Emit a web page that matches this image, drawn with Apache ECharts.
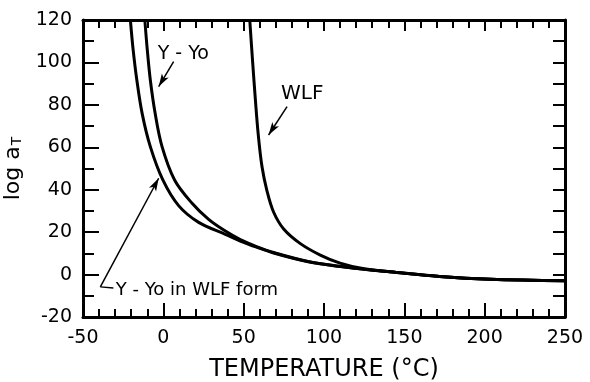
<!DOCTYPE html>
<html>
<head>
<meta charset="utf-8">
<script src="https://cdn.jsdelivr.net/npm/echarts@6/dist/echarts.min.js"></script>
<style>
  html, body { margin: 0; padding: 0; background: #fff; }
  #main { width: 590px; height: 382px; }
</style>
</head>
<body>
<div id="main"></div>
<script>
let wlfT = [53.8, 55.6, 57.3, 59.0, 61.4, 64.5, 68.6, 74.9, 85.3, 97.7, 110, 125, 141, 172, 203.5, 250];
let wlfLog = [120, 100, 82.3, 66.6, 50.9, 39.5, 29.5, 21.5, 14.6, 9.2, 5.4, 2.7, 1.3, -0.9, -2.2, -2.9];

let yyoT = [-11.5, -10.0, -8.1, -5.1, -0.8, 7.0, 17.9, 28.2, 38.6, 47.9, 58, 68.6, 89.4, 110, 125, 141, 172, 203.5, 250];
let yyoLog = [120, 106, 91.7, 76, 60.3, 44.6, 33.6, 26.0, 20.5, 16.5, 13.2, 10.4, 6.3, 3.9, 2.5, 1.3, -0.9, -2.2, -2.9];

let yyoWlfT = [-20.5, -18.8, -16.5, -13.2, -8.1, -0.3, 9.5, 22, 38.6, 47.9, 58, 68.6, 89.4, 110, 125, 141, 172, 203.5, 250];
let yyoWlfLog = [120, 106, 91.7, 76, 60.3, 44.6, 32.5, 24.6, 19.0, 15.8, 12.9, 10.2, 6.2, 3.8, 2.5, 1.3, -0.9, -2.2, -2.9];

let xTicks = [-50, 0, 50, 100, 150, 200, 250];
let yTicks = [-20, 0, 20, 40, 60, 80, 100, 120];

let font = 'DejaVu Sans';

function pairs(xs, ys) {
  return xs.map(function (x, i) { return [x, ys[i]]; });
}

// annotation anchors in data units
let notes = [
  { text: 'Y - Yo', at: [12.4, 104], size: 19, align: 'center' },
  { text: 'WLF', at: [86.5, 85.2], size: 20, align: 'center' },
  { text: 'Y - Yo in WLF form', at: [-29.6, -7.3], size: 18, align: 'left' }
];
let arrows = [
  [[6.4, 100.4], [-2.9, 88.6], true],
  [[77.0, 79.2], [65.5, 65.8], true],
  [[-39.2, -5.8], [-2.9, 45.4], true],
  [[-31.1, -6.3], [-39.2, -5.8], false]
];

let chart = echarts.init(document.getElementById('main'));

let curveStyle = { color: '#000', width: 3 };

function xAxisOf(pos) {
  let bottom = pos === 'bottom';
  return {
    type: 'value', position: pos, min: -50, max: 250, interval: 50,
    axisLine: { onZero: false, lineStyle: { color: '#000', width: 3 } },
    axisTick: { inside: true, length: bottom ? 14 : 11, lineStyle: { color: '#000', width: 2 } },
    minorTick: { show: true, splitNumber: 5, length: 8, lineStyle: { color: '#000', width: 2 } },
    splitLine: { show: false },
    axisLabel: {
      show: bottom, margin: 12, fontSize: 19, color: '#000', fontFamily: font,
      formatter: function (v) { return xTicks.indexOf(v) >= 0 ? String(v) : ''; }
    },
    name: bottom ? 'TEMPERATURE (°C)' : '',
    nameLocation: 'middle', nameGap: 41,
    nameTextStyle: { fontSize: 24, color: '#000', fontFamily: font }
  };
}

function yAxisOf(pos) {
  let left = pos === 'left';
  return {
    type: 'value', position: pos, min: -20, max: 120, interval: 20,
    axisLine: { onZero: false, lineStyle: { color: '#000', width: 3 } },
    axisTick: { inside: true, length: left ? 16 : 12, lineStyle: { color: '#000', width: 2 } },
    minorTick: { show: true, splitNumber: 2, length: left ? 11 : 12, lineStyle: { color: '#000', width: 2 } },
    splitLine: { show: false },
    axisLabel: {
      show: left, margin: 11, fontSize: 19, color: '#000', fontFamily: font,
      formatter: function (v) { return yTicks.indexOf(v) >= 0 ? String(v) : ''; }
    },
    name: left ? '{a|log a}{t|T}' : '',
    nameLocation: 'middle', nameGap: 50, nameRotate: 90,
    nameTextStyle: {
      color: '#000', fontFamily: font,
      rich: {
        a: { fontSize: 22, color: '#000', fontFamily: font },
        t: { fontSize: 14, color: '#000', fontFamily: font, padding: [10, 0, 0, 1] }
      }
    }
  };
}

let option = {
  animation: false,
  grid: { left: 83, right: 25, top: 20, bottom: 65, containLabel: false, outerBoundsMode: 'none' },
  xAxis: [xAxisOf('bottom'), xAxisOf('top')],
  yAxis: [yAxisOf('left'), yAxisOf('right')],
  series: [
    {
      name: 'WLF', type: 'line', data: pairs(wlfT, wlfLog),
      showSymbol: false, smooth: 0.35, lineStyle: curveStyle
    },
    {
      name: 'Y-Yo', type: 'line', data: pairs(yyoT, yyoLog),
      showSymbol: false, smooth: 0.35, lineStyle: curveStyle
    },
    {
      name: 'Y-Yo in WLF form', type: 'line', data: pairs(yyoWlfT, yyoWlfLog),
      showSymbol: false, smooth: 0.35, lineStyle: curveStyle,
      markLine: {
        silent: true,
        label: { show: false },
        lineStyle: { type: 'solid', color: '#000', width: 1.5 },
        symbolSize: [6, 13],
        data: arrows.map(function (a) {
          return [
            { coord: a[0], symbol: 'none' },
            { coord: a[1], symbol: a[2] ? 'arrow' : 'none' }
          ];
        })
      }
    }
  ]
};
chart.setOption(option);

let graphics = notes.map(function (n) {
  let p = chart.convertToPixel({ xAxisIndex: 0, yAxisIndex: 0 }, n.at);
  return {
    type: 'text', x: p[0], y: p[1],
    style: {
      text: n.text, fontSize: n.size, fontFamily: font, fill: '#000',
      align: n.align, verticalAlign: 'middle'
    }
  };
});
chart.setOption({ graphic: graphics });
</script>
</body>
</html>
